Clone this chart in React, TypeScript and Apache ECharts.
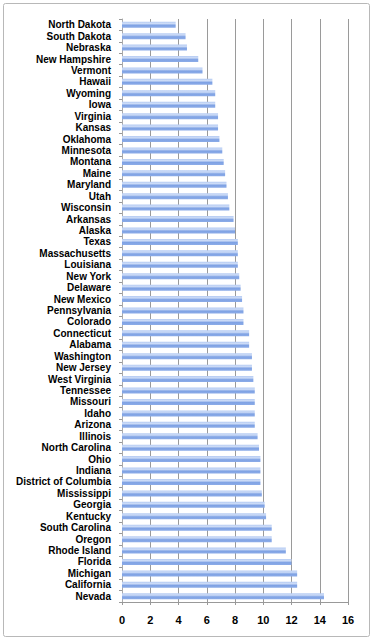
import React, { useEffect, useRef } from "react";
import * as echarts from "echarts";

const states = [
  "North Dakota", "South Dakota", "Nebraska", "New Hampshire", "Vermont", "Hawaii", "Wyoming", "Iowa",
  "Virginia", "Kansas", "Oklahoma", "Minnesota", "Montana", "Maine", "Maryland", "Utah", "Wisconsin",
  "Arkansas", "Alaska", "Texas", "Massachusetts", "Louisiana", "New York", "Delaware", "New Mexico",
  "Pennsylvania", "Colorado", "Connecticut", "Alabama", "Washington", "New Jersey", "West Virginia",
  "Tennessee", "Missouri", "Idaho", "Arizona", "Illinois", "North Carolina", "Ohio", "Indiana",
  "District of Columbia", "Mississippi", "Georgia", "Kentucky", "South Carolina", "Oregon",
  "Rhode Island", "Florida", "Michigan", "California", "Nevada",
];

const rates = [
  3.8, 4.5, 4.6, 5.4, 5.7, 6.4, 6.6, 6.6,
  6.8, 6.8, 6.9, 7.1, 7.2, 7.3, 7.4, 7.5, 7.6,
  7.9, 8.0, 8.2, 8.2, 8.2, 8.3, 8.4, 8.5,
  8.6, 8.6, 9.0, 9.0, 9.2, 9.2, 9.3,
  9.4, 9.4, 9.4, 9.4, 9.6, 9.7, 9.8, 9.8,
  9.8, 9.9, 10.1, 10.2, 10.6, 10.6,
  11.6, 12.0, 12.4, 12.4, 14.3,
];

const xMin = 0;
const xMax = 16;
const xStep = 2;

export default function App() {
  const ref = useRef<HTMLDivElement>(null);
  useEffect(() => {
    if (!ref.current) return;
    const chart = echarts.init(ref.current, null, { renderer: "svg" });
    const font = "'Liberation Sans', Arial, sans-serif";
    chart.setOption({
      animation: false,
      backgroundColor: "#ffffff",
      graphic: [
        {
          type: "rect",
          shape: { x: 3.5, y: 3.5, width: 366, height: 633, r: 2 },
          style: { fill: "none", stroke: "#b8b8b8", lineWidth: 1 },
          silent: true,
        },
      ],
      grid: { left: 122, right: 25, top: 19, bottom: 38, containLabel: false },
      xAxis: {
        type: "value",
        min: xMin,
        max: xMax,
        interval: xStep,
        axisLine: { show: true, lineStyle: { color: "#999", width: 1 } },
        axisTick: { show: true, length: 3, lineStyle: { color: "#999" } },
        splitLine: { show: true, lineStyle: { color: "#9a9a9a", width: 1 } },
        axisLabel: { color: "#000", fontFamily: font, fontWeight: "bold", fontSize: 11, margin: 12 },
      },
      yAxis: {
        type: "category",
        data: states,
        inverse: true,
        axisLine: { show: true, lineStyle: { color: "#aaa", width: 1 } },
        axisTick: { show: true, length: 3, alignWithLabel: false, lineStyle: { color: "#999" } },
        axisLabel: {
          color: "#000", fontFamily: font, fontWeight: "bold", fontSize: 10, lineHeight: 10,
          margin: 11, interval: 0,
        },
        splitLine: { show: false },
      },
      series: [
        {
          type: "bar",
          data: rates,
          barWidth: 6,
          itemStyle: {
            color: new echarts.graphic.LinearGradient(0, 0, 0, 1, [
              { offset: 0, color: "#b5cbf3" },
              { offset: 0.3, color: "#cddcf7" },
              { offset: 0.6, color: "#7fa2e4" },
              { offset: 1, color: "#8cace8" },
            ]),
          },
        },
      ],
    });
    return () => chart.dispose();
  }, []);
  return (
    <div
      ref={ref}
      style={{ position: "fixed", left: 0, top: 0, width: 373, height: 640 }}
    />
  );
}
